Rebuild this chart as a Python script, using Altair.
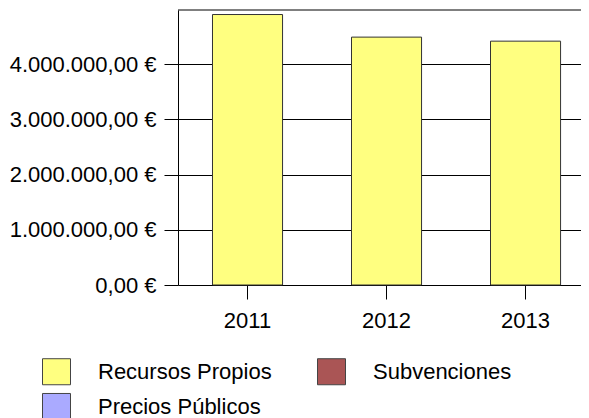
import altair as alt
import pandas as pd

years = ["2011", "2012", "2013"]
series = ["Recursos Propios", "Subvenciones", "Precios Públicos"]
recursos_propios = [4898000, 4489000, 4416000]
subvenciones = [0, 0, 0]
precios_publicos = [0, 0, 0]
colors = ["#FFFF80", "#AA5555", "#AAAAFF"]
y_ticks = [0, 1000000, 2000000, 3000000, 4000000]
y_max = 4980000

rows = []
for s, vals in zip(series, [recursos_propios, subvenciones, precios_publicos]):
    for yr, v in zip(years, vals):
        rows.append({"year": yr, "serie": s, "value": v})
df = pd.DataFrame(rows)

FONT = "Liberation Sans"
FS = 22
label_expr = ("datum.value == 0 ? '0,00 €' : "
              "format(datum.value / 1000000, 'd') + '.000.000,00 €'")

bars = alt.Chart(df).transform_filter("datum.value > 0").mark_bar(
    stroke="#333333", strokeWidth=1
).encode(
    x=alt.X("year:N",
            scale=alt.Scale(paddingInner=0.496, paddingOuter=0.1976, align=0.628),
            axis=alt.Axis(title=None, domain=False, grid=False, tickSize=14,
                          tickColor="#000000", tickWidth=1, labelFontSize=FS,
                          labelFont=FONT, labelColor="#000000", labelPadding=11,
                          labelAngle=0)),
    y=alt.Y("value:Q", stack=True,
            scale=alt.Scale(domain=[0, y_max], nice=False, zero=True),
            axis=alt.Axis(title=None, values=y_ticks, labelExpr=label_expr,
                          grid=True, gridColor="#000000", gridOpacity=1, gridWidth=1,
                          domain=True, domainColor="#000000", tickSize=14,
                          tickColor="#000000", labelFontSize=FS, labelFont=FONT,
                          labelColor="#000000", labelPadding=8)),
    color=alt.Color("serie:N",
                    scale=alt.Scale(domain=series, range=colors),
                    legend=alt.Legend(title=None, orient="none", legendX=-136,
                                      legendY=347, columns=2, direction="horizontal",
                                      symbolType="M-1,-0.93H1V0.93H-1Z", symbolSize=784,
                                      symbolStrokeColor="#444444", symbolStrokeWidth=1,
                                      symbolOpacity=1, labelFont=FONT, labelFontSize=FS,
                                      labelColor="#000000", labelOffset=27,
                                      rowPadding=4, columnPadding=43, padding=0,
                                      labelLimit=400)),
)

top = alt.Chart(pd.DataFrame({"top": [y_max]})).mark_rule(
    color="#000000", strokeWidth=1
).encode(y="top:Q")

chart = alt.layer(bars, top).properties(
    width=403, height=275,
    padding={"left": 170, "top": 2, "right": 0, "bottom": 133},
    autosize=alt.AutoSizeParams(type="none"),
).configure_view(stroke=None)

chart.save("out.html", embed_options={"renderer": "svg", "actions": False})
